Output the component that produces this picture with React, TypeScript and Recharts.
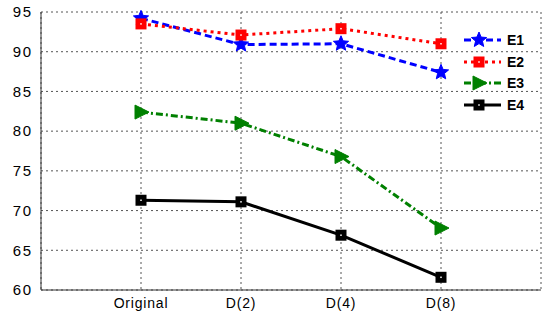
import { CartesianGrid, Line, LineChart, XAxis, YAxis } from "recharts";

const categories = ["Original", "D(2)", "D(4)", "D(8)"];
const e1 = [94.2, 90.9, 91.0, 87.4];
const e2 = [93.5, 92.1, 92.9, 91.0];
const e3 = [82.4, 81.0, 76.8, 67.8];
const e4 = [71.3, 71.1, 66.9, 61.6];
const yTicks = [60, 65, 70, 75, 80, 85, 90, 95];

const data = categories.map((name, i) => ({
  x: i + 1,
  name,
  e1: e1[i],
  e2: e2[i],
  e3: e3[i],
  e4: e4[i]
}));

const FONT = "'Liberation Sans', Arial, sans-serif";

const starPath = (cx: number, cy: number, r: number) => {
  const pts: string[] = [];
  for (let k = 0; k < 10; k++) {
    const rad = k % 2 === 0 ? r : r * 0.45;
    const a = -Math.PI / 2 + (k * Math.PI) / 5;
    pts.push(`${cx + rad * Math.cos(a)},${cy + rad * Math.sin(a)}`);
  }
  return `M${pts.join("L")}Z`;
};

const Star = ({ cx, cy }: any) => <path d={starPath(cx, cy, 8)} fill="#0000ff" stroke="#0000ff" strokeWidth={1} />;

const RedSquare = ({ cx, cy }: any) => (
  <g>
    <rect x={cx - 5.5} y={cy - 5.5} width={11} height={11} fill="#ff0000" stroke="none" />
    <rect x={cx - 0.75} y={cy - 0.75} width={1.5} height={1.5} fill="#ffffff" stroke="none" />
  </g>
);

const Triangle = ({ cx, cy }: any) => (
  <path d={`M${cx - 6},${cy - 7}L${cx + 8},${cy}L${cx - 6},${cy + 7}Z`} fill="#008000" stroke="#008000" />
);

const BlackSquare = ({ cx, cy }: any) => (
  <g>
    <rect x={cx - 5.5} y={cy - 5.5} width={11} height={11} fill="#000000" stroke="none" />
    <rect x={cx - 0.75} y={cy - 0.75} width={1.5} height={1.5} fill="#ffffff" stroke="none" />
  </g>
);

const legendRows = [
  { label: "E1", color: "#0000ff", dash: "7 4", Marker: Star },
  { label: "E2", color: "#ff0000", dash: "3 4", Marker: RedSquare },
  { label: "E3", color: "#008000", dash: "7 3 2 3", Marker: Triangle },
  { label: "E4", color: "#000000", dash: undefined, Marker: BlackSquare }
];

const LegendBox = () => (
  <div style={{ position: "absolute", left: 463, top: 29, fontFamily: FONT, fontSize: 14, fontWeight: "bold" }}>
    {legendRows.map(({ label, color, dash, Marker }) => (
      <div key={label} style={{ display: "flex", alignItems: "center", height: 21.7 }}>
        <svg width={40} height={20}>
          <line x1={1} y1={10} x2={38} y2={10} stroke={color} strokeWidth={3} strokeDasharray={dash} />
          <Marker cx={16} cy={10} />
        </svg>
        <span style={{ marginLeft: 4 }}>{label}</span>
      </div>
    ))}
  </div>
);

export default function App() {
  return (
    <div style={{ position: "absolute", left: 0, top: 0, width: 549, height: 313, background: "#fff" }}>
      <LineChart width={549} height={313} data={data} margin={{ top: 12, right: 8, bottom: 0, left: 0 }}>
        <CartesianGrid stroke="#555" strokeDasharray="2 3" />
        <XAxis
          dataKey="x"
          type="number"
          domain={[0, 5]}
          ticks={[1, 2, 3, 4]}
          tickFormatter={(v: number) => categories[v - 1] ?? ""}
          height={23}
          stroke="#333"
          tickLine={false}
          tick={{ fill: "#000", fontSize: 14, fontFamily: FONT, letterSpacing: 0.8 }}
          tickMargin={2}
        />
        <XAxis xAxisId="top" orientation="top" dataKey="x" type="number" domain={[0, 5]} height={0} tick={false} tickLine={false} stroke="#666" />
        <YAxis
          domain={[60, 95]}
          ticks={yTicks}
          width={41}
          stroke="#333"
          tickLine={false}
          tick={{ fill: "#000", fontSize: 15, fontFamily: FONT, letterSpacing: 1.5 }}
          tickMargin={2.5}
        />
        <YAxis yAxisId="right" orientation="right" domain={[60, 95]} width={0} tick={false} tickLine={false} stroke="#666" />
        <Line dataKey="e1" stroke="#0000ff" strokeWidth={3} strokeDasharray="7 4" dot={<Star />} isAnimationActive={false} />
        <Line dataKey="e2" stroke="#ff0000" strokeWidth={3} strokeDasharray="3 4" dot={<RedSquare />} isAnimationActive={false} />
        <Line dataKey="e3" stroke="#008000" strokeWidth={3} strokeDasharray="7 3 2 3" dot={<Triangle />} isAnimationActive={false} />
        <Line dataKey="e4" stroke="#000000" strokeWidth={3} dot={<BlackSquare />} isAnimationActive={false} />
      </LineChart>
      <LegendBox />
    </div>
  );
}
